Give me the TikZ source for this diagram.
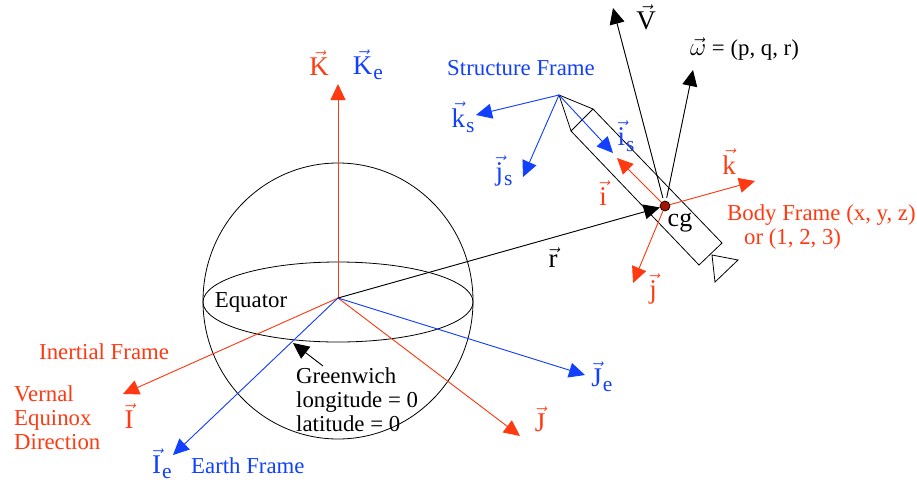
\documentclass[tikz,border=0pt]{standalone}
\usepackage{amsmath,amssymb}
\usepackage{fontspec}
\setmainfont{Liberation Serif}
\usetikzlibrary{arrows.meta,positioning,calc}
\usepackage{xcolor}
\definecolor{FrameRed}{HTML}{FF3A12}
\definecolor{FrameBlue}{HTML}{1240FF}
\definecolor{DotRed}{HTML}{A81400}
\newcommand{\vlab}[1]{{\fontsize{27}{30}\selectfont$\vec{\mathrm{#1}}$}}
\newcommand{\vsub}[2]{{\fontsize{27}{30}\selectfont$\vec{\mathrm{#1}}$\kern1pt\raisebox{-.2em}{\fontsize{21.5}{22}\selectfont #2}}}
\tikzset{
txt/.style={inner sep=0pt,font=\fontsize{22.8}{24}\selectfont},
redtxt/.style={txt,text=FrameRed},
bluetxt/.style={txt,text=FrameBlue},
vecline/.style={line width=.9pt,-{Triangle[length=16pt,width=15pt]}},
redvec/.style={vecline,draw=FrameRed,fill=FrameRed},
bluevec/.style={vecline,draw=FrameBlue,fill=FrameBlue},
blackvec/.style={vecline,draw=black,fill=black},
outline/.style={line width=.8pt,draw=black}
}
\begin{document}
\begin{tikzpicture}[x=1pt,y=-1pt]
\useasboundingbox (0,0) rectangle (917,482);
\coordinate (origin) at (338,298);
\coordinate (nose) at (559,95);
\node[circle,draw=black,fill=DotRed,line width=.7pt,minimum size=10pt,inner sep=0pt] (cg) at (665,206) {};

\draw[outline] (338,301) ellipse [x radius=135,y radius=138];
\draw[outline] (338,302) ellipse [x radius=135,y radius=40];

\draw[outline] (nose) -- (593,109) -- (722,243) -- (699,265) -- (571,131) -- cycle;
\draw[outline] (593,109) -- (571,131);
\draw[outline] (712,255) -- (738,260) -- (715,282) -- cycle;

\coordinate (Kend) at (338,84);
\coordinate (Iend) at (123,394);
\coordinate (Jend) at (520,436);
\coordinate (Ieend) at (173,455);
\coordinate (Jeend) at (585,375);
\coordinate (Vend) at (613,8);
\coordinate (wend) at (693,70);
\coordinate (iend) at (617,158);
\coordinate (jend) at (633,283);
\coordinate (kend) at (755,181);
\coordinate (ksend) at (476,115);
\coordinate (jsend) at (523,177);
\coordinate (isend) at (613,153);
\coordinate (gwtail) at (323,366);
\coordinate (gwtip) at (293,343);

\draw[redvec] (origin) -- (Kend);
\draw[redvec] (origin) -- (Iend);
\draw[redvec] (origin) -- (Jend);
\draw[bluevec] (origin) -- (Ieend);
\draw[bluevec] (origin) -- (Jeend);
\draw[blackvec] (origin) -- (cg);
\draw[blackvec,shorten <=3pt] (cg) -- (Vend);
\draw[blackvec,shorten <=3pt] (cg) -- (wend);
\draw[redvec] (cg) -- (iend);
\draw[redvec] (cg) -- (jend);
\draw[redvec] (cg) -- (kend);
\draw[bluevec] (nose) -- (ksend);
\draw[bluevec] (nose) -- (jsend);
\draw[bluevec] (nose) -- (isend);
\draw[blackvec] (gwtail) -- (gwtip);

\node[redtxt] (Klab) at (319,63) {\vlab{K}};
\node[bluetxt] (Kelab) at (368,65) {\vsub{K}{e}};
\node[bluetxt] (structlab) at (521,68) {Structure Frame};
\node[bluetxt] (kslab) at (463,117) {\vsub{k}{s}};
\node[bluetxt] (jslab) at (504,171) {\vsub{j}{s}};
\node[bluetxt] (islab) at (626,136) {\vsub{i}{s}};
\node[txt] (Vlab) at (646,17) {\vlab{V}};
\node[txt,anchor=west] (wlab) at (690,49) {{\fontsize{27}{30}\selectfont$\vec{\omega}$} = (p, q, r)};
\node[redtxt] (klab) at (729,162) {\vlab{k}};
\node[redtxt] (ilab) at (603,193) {\vlab{i}};
\node[redtxt] (jlab) at (653,289) {\vlab{j}};
\node[txt,font=\fontsize{26}{28}\selectfont] (cglab) at (680,223) {cg};
\node[redtxt,anchor=west] (bodylab) at (727,215) {Body Frame (x, y, z)};
\node[redtxt,anchor=west] (orlab) at (744,239) {or (1, 2, 3)};
\node[txt] (rlab) at (553,258) {\vlab{r}};
\node[txt] (eqlab) at (251,302) {Equator};
\node[redtxt,anchor=west] (inertlab) at (39,352) {Inertial Frame};
\node[redtxt,anchor=north west,align=left] (vernlab) at (14,385) {Vernal\\Equinox\\Direction};
\node[redtxt] (Ilab) at (129,416) {\vlab{I}};
\node[bluetxt] (Ielab) at (162,464) {\vsub{I}{e}};
\node[bluetxt,anchor=west] (earthlab) at (191,466) {Earth Frame};
\node[txt,anchor=north west,align=left] (gwlab) at (296,367) {Greenwich\\longitude = 0\\latitude = 0};
\node[bluetxt] (Jelab) at (602,377) {\vsub{J}{e}};
\node[redtxt] (Jlab) at (540,419) {\vlab{J}};
\end{tikzpicture}
\end{document}
